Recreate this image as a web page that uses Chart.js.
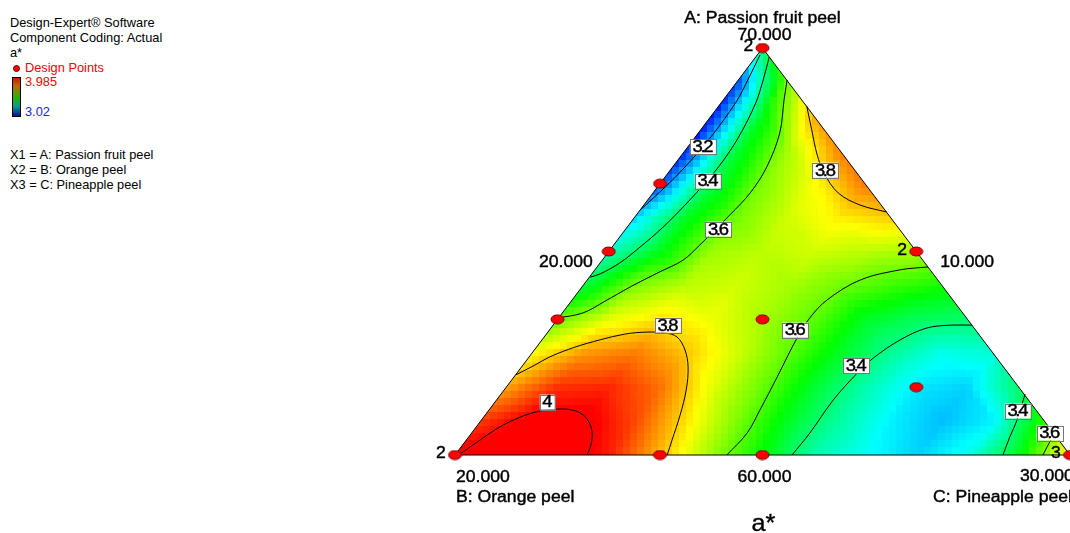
<!DOCTYPE html>
<html>
<head>
<meta charset="utf-8">
<title>a* mixture contour</title>
<script src="https://cdn.jsdelivr.net/npm/chart.js@4/dist/chart.umd.min.js"></script>
<style>
  body { margin: 0; background: #fff; font-family: "Liberation Sans", Arial, sans-serif; }
  #wrap { position: relative; width: 1070px; height: 533px; overflow: hidden; }
  .t { position: absolute; left: 10px; font-size: 12.8px; line-height: 15px; white-space: nowrap; color: #000; }
  #bar { position: absolute; left: 12px; top: 77px; width: 7px; height: 38px; border: 1px solid #000;
         background: linear-gradient(#c21a00, #c86400 20%, #2fb000 50%, #00a08c 75%, #0010a0); }
  #dot { position: absolute; left: 13px; top: 65px; width: 5px; height: 5px; border-radius: 50%;
         background: #f00; border: 1px solid #600; }
</style>
</head>
<body>
<div id="wrap">
  <div class="t" style="top:15px">Design-Expert® Software</div>
  <div class="t" style="top:30px">Component Coding: Actual</div>
  <div class="t" style="top:45px">a*</div>
  <div id="dot"></div>
  <div class="t" style="top:60px;left:25px;color:#f00">Design Points</div>
  <div id="bar"></div>
  <div class="t" style="top:74px;left:25px;color:#f00">3.985</div>
  <div class="t" style="top:104px;left:25px;color:#2020ff">3.02</div>
  <div class="t" style="top:147px">X1 = A: Passion fruit peel</div>
  <div class="t" style="top:162px">X2 = B: Orange peel</div>
  <div class="t" style="top:177px">X3 = C: Pineapple peel</div>
  <canvas id="tern" width="1070" height="533" style="position:absolute;left:0;top:0"></canvas>
</div>
<script>
// design points, actual levels (A + B + C = 100)
const ptA = [70, 66.667, 65, 63.333, 65, 63.333, 61.667, 60, 60, 60, 60];
const ptB = [10, 13.333, 15, 16.667, 10, 13.333, 11.667, 20, 16.667, 15, 10];
const ptC = [20, 20, 20, 20, 25, 23.333, 26.667, 20, 23.333, 25, 30];
const ptReps = [2, 1, 1, 1, 2, 1, 1, 2, 1, 1, 3];

// colour scale limits
const scaleLow = 3.02, scaleHigh = 3.985;

// a* on a 12-step lattice; row i is A = 60 + 10*i/12,
// entries run from the B corner side (left) to the C side (right)
const gridN = 12;
const aStarGrid = [
  [4.00, 4.05, 4.04, 3.96, 3.81, 3.65, 3.50, 3.34, 3.27, 3.22, 3.28, 3.48, 3.78],
  [3.93, 4.01, 4.01, 3.92, 3.77, 3.62, 3.47, 3.35, 3.25, 3.20, 3.25, 3.55],
  [3.83, 3.94, 3.95, 3.88, 3.72, 3.60, 3.46, 3.34, 3.24, 3.22, 3.40],
  [3.74, 3.84, 3.87, 3.80, 3.70, 3.59, 3.47, 3.36, 3.28, 3.30],
  [3.60, 3.72, 3.77, 3.73, 3.66, 3.59, 3.47, 3.42, 3.40],
  [3.44, 3.62, 3.68, 3.70, 3.66, 3.61, 3.56, 3.52],
  [3.32, 3.48, 3.65, 3.68, 3.70, 3.68, 3.66],
  [3.22, 3.47, 3.61, 3.70, 3.76, 3.79],
  [3.10, 3.43, 3.62, 3.74, 3.87],
  [3.05, 3.45, 3.66, 3.86],
  [3.04, 3.48, 3.82],
  [3.08, 3.62],
  [3.38]
];

// contour lines, plot units (x = C' + A'/2, y = A')
const c32a = [[0.496,0.983],[0.476,0.921],[0.459,0.872],[0.431,0.811],[0.403,0.757],[0.366,0.695],[0.333,0.646],[0.301,0.602]];
const c34a = [[0.511,0.978],[0.501,0.921],[0.489,0.865],[0.463,0.786],[0.437,0.725],[0.411,0.676],[0.374,0.614],[0.337,0.558],[0.301,0.511],[0.268,0.472],[0.236,0.445],[0.220,0.437]];
const c36a = [[0.540,0.921],[0.535,0.872],[0.528,0.791],[0.507,0.708],[0.480,0.644],[0.447,0.590],[0.398,0.516],[0.371,0.479],[0.333,0.450],[0.285,0.413],[0.244,0.378],[0.208,0.349],[0.169,0.337]];
const c38a = [[0.572,0.857],[0.580,0.799],[0.589,0.737],[0.600,0.693],[0.623,0.644],[0.659,0.614],[0.702,0.597]];
const c38b = [[0.099,0.197],[0.130,0.221],[0.154,0.241],[0.195,0.265],[0.236,0.283],[0.276,0.297],[0.312,0.302],[0.341,0.300],[0.361,0.290],[0.374,0.258],[0.379,0.216],[0.376,0.160],[0.366,0.098],[0.353,0.037],[0.345,0]];
const c40 = [[0.008,0.002],[0.041,0.037],[0.073,0.069],[0.106,0.093],[0.138,0.108],[0.176,0.113],[0.200,0.106],[0.216,0.086],[0.223,0.054],[0.221,0.025],[0.215,0]];
const c36b = [[0.442,0],[0.475,0.054],[0.496,0.111],[0.524,0.192],[0.556,0.287],[0.577,0.337],[0.605,0.381],[0.659,0.430],[0.724,0.455],[0.769,0.462]];
const c34b = [[0.548,0],[0.577,0.054],[0.615,0.135],[0.654,0.201],[0.680,0.238],[0.724,0.283],[0.767,0.312],[0.805,0.319],[0.841,0.319]];
const c34c = [[0.891,0],[0.902,0.044],[0.914,0.086],[0.927,0.150]];
const c36c = [[0.956,0],[0.966,0.029],[0.976,0.052]];
const contourLines = [c32a, c34a, c36a, c38a, c38b, c40, c36b, c34b, c34c, c36c];

// contour labels
const labelText = ['3.2', '3.4', '3.6', '3.8', '3.8', '4', '3.6', '3.4', '3.4', '3.6'];
const labelX = [0.403, 0.411, 0.428, 0.602, 0.346, 0.150, 0.553, 0.652, 0.915, 0.967];
const labelY = [0.757, 0.673, 0.555, 0.700, 0.319, 0.130, 0.307, 0.219, 0.108, 0.054];

function toPlot(A, B, C) {
  const a = (A - 60) / 10, c = (C - 20) / 10;
  return { x: c + a / 2, y: a };
}

function surfaceAt(vx, vy) {
  const a = Math.min(Math.max(vy, 0), 1);
  const c = Math.min(Math.max(vx - a / 2, 0), 1 - a);
  const u = a * gridN, w = c * gridN;
  const i = Math.min(Math.floor(u), gridN - 1);
  const j = Math.min(Math.floor(w), gridN - 1 - i);
  const fu = u - i, fw = w - j;
  const V = (r, k) => aStarGrid[r][k];
  if (fu + fw <= 1 || V(i + 1, j + 1) === undefined) {
    return V(i, j) * (1 - fu - fw) + V(i + 1, j) * fu + V(i, j + 1) * fw;
  }
  return V(i + 1, j + 1) * (fu + fw - 1) + V(i + 1, j) * (1 - fw) + V(i, j + 1) * (1 - fu);
}

const stops = [[0, 0, 255], [0, 255, 255], [0, 255, 0], [255, 255, 0], [255, 0, 0]];
function colourFor(v) {
  let t = (v - scaleLow) / (scaleHigh - scaleLow);
  t = Math.min(Math.max(t, 0), 1) * 4;
  const k = Math.min(Math.floor(t), 3), f = t - k;
  const c0 = stops[k], c1 = stops[k + 1];
  return 'rgb(' + Math.round(c0[0] + (c1[0] - c0[0]) * f) + ',' +
    Math.round(c0[1] + (c1[1] - c0[1]) * f) + ',' +
    Math.round(c0[2] + (c1[2] - c0[2]) * f) + ')';
}

// red oval marker like the original
const dot = document.createElement('canvas');
dot.width = 15; dot.height = 11;
const g = dot.getContext('2d');
g.beginPath();
g.ellipse(7.5, 5.5, 6.5, 4.5, 0, 0, Math.PI * 2);
g.fillStyle = '#ff0000';
g.fill();
g.strokeStyle = '#700000';
g.lineWidth = 1;
g.stroke();

const surfacePlugin = {
  id: 'surface',
  beforeDatasetsDraw(chart) {
    const { ctx, chartArea, scales: { x, y } } = chart;
    ctx.save();
    ctx.beginPath();
    ctx.moveTo(x.getPixelForValue(0), y.getPixelForValue(0));
    ctx.lineTo(x.getPixelForValue(0.5), y.getPixelForValue(1));
    ctx.lineTo(x.getPixelForValue(1), y.getPixelForValue(0));
    ctx.closePath();
    ctx.clip();
    const cell = 7;
    for (let py = chartArea.top; py < chartArea.bottom; py += cell) {
      for (let px = chartArea.left; px < chartArea.right; px += cell) {
        const v = surfaceAt(x.getValueForPixel(px + cell / 2), y.getValueForPixel(py + cell / 2));
        ctx.fillStyle = colourFor(v);
        ctx.fillRect(px, py, cell + 0.5, cell + 0.5);
      }
    }
    ctx.restore();
  }
};

// wide, dark text like the Design-Expert export
function wideText(ctx, text, x, y, align, sx) {
  ctx.save();
  ctx.translate(x, y);
  ctx.scale(sx, 1);
  ctx.textAlign = align;
  ctx.fillText(text, 0, 0);
  ctx.strokeText(text, 0, 0);
  ctx.restore();
}

const textPlugin = {
  id: 'texts',
  afterDatasetsDraw(chart) {
    const { ctx, scales: { x, y } } = chart;
    const P = (vx, vy) => [x.getPixelForValue(vx), y.getPixelForValue(vy)];
    ctx.save();
    ctx.textBaseline = 'middle';
    ctx.strokeStyle = '#000';
    ctx.lineWidth = 0.4;

    ctx.font = '16px "Liberation Sans", Arial, sans-serif';
    ctx.letterSpacing = '-2px';
    for (let k = 0; k < labelText.length; k++) {
      const [px, py] = P(labelX[k], labelY[k]);
      const w = Math.max(Math.round(ctx.measureText(labelText[k]).width * 1.15) + 7, 15);
      ctx.fillStyle = '#fff';
      ctx.fillRect(px - w / 2, py - 7.5, w, 15);
      ctx.strokeStyle = '#777';
      ctx.lineWidth = 1;
      ctx.strokeRect(Math.round(px - w / 2) + 0.5, Math.round(py - 7.5) + 0.5, w, 15);
      ctx.fillStyle = '#000';
      ctx.strokeStyle = '#000';
      ctx.lineWidth = 0.4;
      wideText(ctx, labelText[k], px - 1, py + 1, 'center', 1.15);
    }

    ctx.font = '16px "Liberation Sans", Arial, sans-serif';
    ctx.letterSpacing = '0px';
    // replicate counts
    for (let k = 0; k < ptA.length; k++) {
      if (ptReps[k] < 2) continue;
      const p = toPlot(ptA[k], ptB[k], ptC[k]);
      const [px, py] = P(p.x, p.y);
      wideText(ctx, String(ptReps[k]), px - 14, py - 1, 'center', 1.1);
    }

    const top = P(0.5, 1), left = P(0, 0), right = P(1, 0);
    const leftMid = P(0.25, 0.5), rightMid = P(0.75, 0.5), bottomMid = P(0.5, 0);
    const sx = 1.1;
    wideText(ctx, 'A: Passion fruit peel', top[0], top[1] - 29, 'center', sx);
    wideText(ctx, '70.000', top[0] + 2, top[1] - 12, 'center', sx);
    wideText(ctx, '60.000', bottomMid[0] + 2, bottomMid[1] + 23, 'center', sx);
    wideText(ctx, '20.000', leftMid[0] - 16, leftMid[1] + 11, 'right', sx);
    wideText(ctx, '10.000', rightMid[0] + 24, rightMid[1] + 11, 'left', sx);
    wideText(ctx, '20.000', left[0] + 1, left[1] + 23, 'left', sx);
    wideText(ctx, 'B: Orange peel', left[0] + 1, left[1] + 43, 'left', sx);
    wideText(ctx, '30.000', right[0] - 50, right[1] + 22, 'left', sx);
    wideText(ctx, 'C: Pineapple peel', right[0] - 137, right[1] + 43, 'left', sx);

    ctx.font = '24px "Liberation Sans", Arial, sans-serif';
    ctx.textBaseline = 'alphabetic';
    wideText(ctx, 'a*', bottomMid[0] + 1, 531, 'center', 1.05);
    ctx.restore();
  }
};

const datasets = [{
  label: 'Design Points',
  data: ptA.map((A, k) => toPlot(A, ptB[k], ptC[k])),
  pointStyle: dot,
  pointRadius: 6,
  showLine: false,
  clip: false
}, {
  label: 'frame',
  data: [{ x: 0, y: 0 }, { x: 0.5, y: 1 }, { x: 1, y: 0 }, { x: 0, y: 0 }],
  showLine: true,
  borderColor: '#000',
  borderWidth: 1,
  pointRadius: 0,
  clip: false
}];
contourLines.forEach((line, k) => {
  datasets.push({
    label: 'contour ' + labelText[k],
    data: line.map(p => ({ x: p[0], y: p[1] })),
    showLine: true,
    borderColor: '#000',
    borderWidth: 1,
    pointRadius: 0,
    tension: 0.35,
    clip: false
  });
});

new Chart(document.getElementById('tern'), {
  type: 'scatter',
  data: { datasets: datasets },
  options: {
    responsive: false,
    animation: false,
    devicePixelRatio: 1,
    layout: { autoPadding: false, padding: { left: 455, top: 48, right: 0, bottom: 78 } },
    scales: {
      x: { type: 'linear', min: 0, max: 1, display: false },
      y: { type: 'linear', min: 0, max: 1, display: false }
    },
    plugins: { legend: { display: false }, tooltip: { enabled: false } }
  },
  plugins: [surfacePlugin, textPlugin]
});
</script>
</body>
</html>
